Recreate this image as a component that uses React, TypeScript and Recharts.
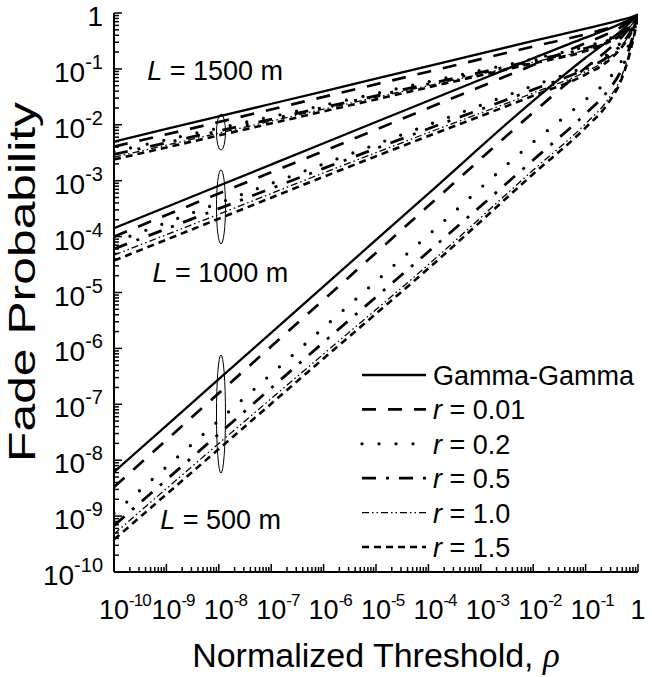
import { LineChart, Line, XAxis, YAxis, Legend, ReferenceDot, Label } from "recharts";

const FONT = '"Liberation Sans", Arial, Helvetica, sans-serif';

// normalized threshold rho, as powers of ten
const rhoExp = [-10, -8, -6, -4, -2, -1, -0.6, -0.3, -0.15, 0];

// log10 of fade probability
// L = 500 m
const gg500 = [-8.21, -6.55, -4.89, -3.23, -1.57, -0.8, -0.52, -0.3, -0.17, -0.03];
const r001_500 = [-8.48, -6.8, -5.13, -3.45, -1.78, -0.98, -0.68, -0.42, -0.25, -0.04];
const r02_500 = [-8.95, -7.29, -5.63, -3.97, -2.31, -1.55, -1.22, -0.83, -0.5, -0.05];
const r05_500 = [-9.17, -7.53, -5.89, -4.27, -2.63, -1.8, -1.42, -0.98, -0.58, -0.06];
const r10_500 = [-9.32, -7.7, -6.1, -4.5, -2.81, -1.98, -1.58, -1.1, -0.66, -0.07];
const r15_500 = [-9.42, -7.8, -6.18, -4.57, -2.88, -2.05, -1.65, -1.15, -0.7, -0.08];
// L = 1000 m
const gg1000 = [-3.85, -3.09, -2.33, -1.57, -0.81, -0.44, -0.3, -0.18, -0.11, -0.03];
const r001_1000 = [-4.0, -3.23, -2.47, -1.7, -0.93, -0.54, -0.38, -0.24, -0.15, -0.04];
const r02_1000 = [-4.1, -3.4, -2.7, -2.0, -1.3, -0.95, -0.75, -0.5, -0.32, -0.05];
const r05_1000 = [-4.22, -3.5, -2.78, -2.07, -1.37, -1.0, -0.8, -0.54, -0.35, -0.06];
const r10_1000 = [-4.33, -3.6, -2.86, -2.14, -1.43, -1.05, -0.84, -0.57, -0.37, -0.06];
const r15_1000 = [-4.43, -3.68, -2.93, -2.2, -1.48, -1.1, -0.88, -0.6, -0.39, -0.07];
// L = 1500 m
const gg1500 = [-2.3, -1.85, -1.4, -0.95, -0.5, -0.28, -0.19, -0.12, -0.08, -0.03];
const r001_1500 = [-2.39, -1.95, -1.5, -1.05, -0.6, -0.38, -0.28, -0.19, -0.13, -0.04];
const r02_1500 = [-2.48, -2.06, -1.65, -1.23, -0.82, -0.6, -0.48, -0.33, -0.22, -0.05];
const r05_1500 = [-2.53, -2.11, -1.69, -1.27, -0.85, -0.63, -0.5, -0.35, -0.23, -0.05];
const r10_1500 = [-2.58, -2.15, -1.72, -1.3, -0.88, -0.66, -0.52, -0.36, -0.24, -0.06];
const r15_1500 = [-2.62, -2.19, -1.76, -1.33, -0.9, -0.68, -0.54, -0.38, -0.25, -0.06];

const distances = [500, 1000, 1500];
const seriesNames = ["Gamma-Gamma", "r = 0.01", "r = 0.2", "r = 0.5", "r = 1.0", "r = 1.5"];
const seriesKeys = ["gg", "r001", "r02", "r05", "r10", "r15"];
const groupValues: Record<number, number[][]> = {
  500: [gg500, r001_500, r02_500, r05_500, r10_500, r15_500],
  1000: [gg1000, r001_1000, r02_1000, r05_1000, r10_1000, r15_1000],
  1500: [gg1500, r001_1500, r02_1500, r05_1500, r10_1500, r15_1500],
};

const majorTicks = [1e-10, 1e-9, 1e-8, 1e-7, 1e-6, 1e-5, 1e-4, 1e-3, 1e-2, 1e-1, 1];
const minorTicks = majorTicks.slice(0, -1).flatMap((d) => [2, 3, 4, 5, 6, 7, 8, 9].map((m) => m * d));
const allTicks = [...majorTicks, ...minorTicks].sort((a, b) => a - b);

const lineStyles = [
  { width: 2.3, dash: undefined, cap: "butt" },
  { width: 2.7, dash: "14 12", cap: "butt" },
  { width: 3.3, dash: "0 17", cap: "round" },
  { width: 2.8, dash: "14 10 3 10", cap: "butt" },
  { width: 1.3, dash: "7 3 1.5 3 1.5 3", cap: "butt" },
  { width: 2.6, dash: "7 5", cap: "butt" },
];

const rows = rhoExp.map((e, i) => {
  const row: Record<string, number> = { rho: Math.pow(10, e) };
  distances.forEach((L) => {
    groupValues[L].forEach((arr, s) => {
      row[`${seriesKeys[s]}_${L}`] = Math.pow(10, arr[i]);
    });
  });
  return row;
});

// annotation anchors (data coordinates)
const distanceLabels = [
  { text: "1500 m", x: 4.3e-10, y: 0.095 },
  { text: "1000 m", x: 5.4e-10, y: 2.3e-5 },
  { text: "500 m", x: 7.6e-10, y: 8.9e-10 },
];
const ellipses = [
  { x: 1.1e-8, y: 7.4e-3, ry: 18 },
  { x: 1.1e-8, y: 3.4e-4, ry: 37 },
  { x: 1.1e-8, y: 6.7e-8, ry: 59 },
];

const isMajor = (v: number) => {
  const e = Math.log10(v);
  return Math.abs(e - Math.round(e)) < 1e-6;
};

const tickText = (v: number, supSize: number, supSpacing: number) => {
  const e = Math.round(Math.log10(v));
  if (e === 0) return "1";
  return [
    <tspan key="b">10</tspan>,
    <tspan key="e" dy={-13} fontSize={supSize} letterSpacing={supSpacing}>
      {e}
    </tspan>,
  ];
};

const BottomTick = (props: any) => {
  const { x, y, payload } = props;
  const major = isMajor(payload.value);
  const one = Math.abs(payload.value - 1) < 1e-9;
  return (
    <g>
      <line x1={x} x2={x} y1={y} y2={y - (major ? 8 : 5)} stroke="#000" strokeWidth={1.5} />
      {major && (
        <text
          x={one ? x : x - 15}
          y={y + 47}
          textAnchor={one ? "middle" : "start"}
          fontSize={27}
          fontFamily={FONT}
          fill="#000"
        >
          {tickText(payload.value, 17, -1)}
        </text>
      )}
    </g>
  );
};

const LeftTick = (props: any) => {
  const { x, y, payload } = props;
  const major = isMajor(payload.value);
  return (
    <g>
      <line x1={x} x2={x + (major ? 8 : 5)} y1={y} y2={y} stroke="#000" strokeWidth={1.5} />
      {major && (
        <text x={x - 11} y={y + 13} textAnchor="end" fontSize={28} fontFamily={FONT} fill="#000">
          {tickText(payload.value, 20, 0)}
        </text>
      )}
    </g>
  );
};

const RightTick = (props: any) => {
  const { x, y, payload } = props;
  const major = isMajor(payload.value);
  return <line x1={x} x2={x - (major ? 8 : 5)} y1={y} y2={y} stroke="#000" strokeWidth={1.5} />;
};

const YTitle = () => {
  const cx = 35;
  const cy = 282;
  return (
    <text
      x={cx}
      y={cy}
      transform={`rotate(-90 ${cx} ${cy})`}
      textAnchor="middle"
      fontSize={36}
      fontFamily={FONT}
      fill="#000"
      textLength={360}
      lengthAdjust="spacingAndGlyphs"
    >
      Fade Probability
    </text>
  );
};

const XTitle = (props: any) => {
  const vb = props.viewBox;
  return (
    <text x={vb.x + vb.width / 2} y={667} textAnchor="middle" fontSize={34} fontFamily={FONT} fill="#000">
      Normalized Threshold,{" "}
      <tspan fontFamily='"Liberation Serif", "Times New Roman", serif' fontStyle="italic" fontSize={35}>
        ρ
      </tspan>
    </text>
  );
};

const LegendBox = () => (
  <svg width={295} height={210} style={{ display: "block" }}>
    {seriesNames.map((name, i) => {
      const y = 18 + i * 34.4;
      const st = lineStyles[i];
      return (
        <g key={name}>
          <line
            x1={12}
            x2={76}
            y1={y}
            y2={y}
            stroke="#000"
            strokeWidth={st.width}
            strokeDasharray={st.dash}
            strokeLinecap={st.cap as any}
          />
          <text x={83} y={y + 10} fontSize={27} fontFamily={FONT} fill="#000">
            {i === 0 ? (
              name
            ) : (
              <>
                <tspan fontStyle="italic">r</tspan>
                {name.slice(1)}
              </>
            )}
          </text>
        </g>
      );
    })}
  </svg>
);

export default function App() {
  return (
    <div style={{ width: 652, height: 677, fontFamily: FONT, background: "#fff" }}>
      <style>{"body{margin:0;background:#fff}"}</style>
      <LineChart width={652} height={677} data={rows} margin={{ top: 13, right: 14, bottom: 0, left: 0 }}>
        <XAxis
          dataKey="rho"
          type="number"
          scale="log"
          domain={[1e-10, 1]}
          allowDataOverflow
          ticks={allTicks}
          interval={0}
          tickSize={0}
          tickMargin={0}
          tickLine={false}
          tick={BottomTick}
          height={105}
          axisLine={{ stroke: "#000", strokeWidth: 2 }}
        >
          <Label content={XTitle} />
        </XAxis>
        <XAxis
          xAxisId="top"
          orientation="top"
          type="number"
          scale="log"
          domain={[1e-10, 1]}
          allowDataOverflow
          tick={false}
          tickLine={false}
          height={0}
          axisLine={{ stroke: "#000", strokeWidth: 2 }}
        />
        <YAxis
          type="number"
          scale="log"
          domain={[1e-10, 1]}
          allowDataOverflow
          ticks={allTicks}
          interval={0}
          tickSize={0}
          tickMargin={0}
          tickLine={false}
          tick={LeftTick}
          width={114}
          axisLine={{ stroke: "#000", strokeWidth: 2 }}
        >
          <Label content={YTitle} />
        </YAxis>
        <YAxis
          yAxisId="right"
          orientation="right"
          type="number"
          scale="log"
          domain={[1e-10, 1]}
          allowDataOverflow
          ticks={allTicks}
          interval={0}
          tickSize={0}
          tickMargin={0}
          tickLine={false}
          tick={RightTick}
          width={0}
          axisLine={{ stroke: "#000", strokeWidth: 2 }}
        />
        {distances.map((L) =>
          seriesKeys.map((k, s) => (
            <Line
              key={`${k}_${L}`}
              dataKey={`${k}_${L}`}
              type="monotone"
              stroke="#000"
              strokeWidth={lineStyles[s].width}
              strokeDasharray={lineStyles[s].dash}
              strokeLinecap={lineStyles[s].cap as any}
              dot={false}
              activeDot={false}
              isAnimationActive={false}
            />
          ))
        )}
        {ellipses.map((el, i) => (
          <ReferenceDot
            key={`el${i}`}
            x={el.x}
            y={el.y}
            ifOverflow="visible"
            shape={(p: any) => (
              <ellipse cx={p.cx} cy={p.cy} rx={4.5} ry={el.ry} fill="none" stroke="#000" strokeWidth={1} />
            )}
          />
        ))}
        {distanceLabels.map((d) => (
          <ReferenceDot
            key={d.text}
            x={d.x}
            y={d.y}
            ifOverflow="visible"
            shape={(p: any) => (
              <text x={p.cx} y={p.cy + 10} fontSize={27} fontFamily={FONT} fill="#000">
                <tspan fontStyle="italic">L</tspan> = {d.text}
              </text>
            )}
          />
        ))}
        <Legend
          layout="vertical"
          align="center"
          verticalAlign="middle"
          content={LegendBox}
          wrapperStyle={{ left: 350, top: 357, width: 295, height: 210 }}
        />
      </LineChart>
    </div>
  );
}
